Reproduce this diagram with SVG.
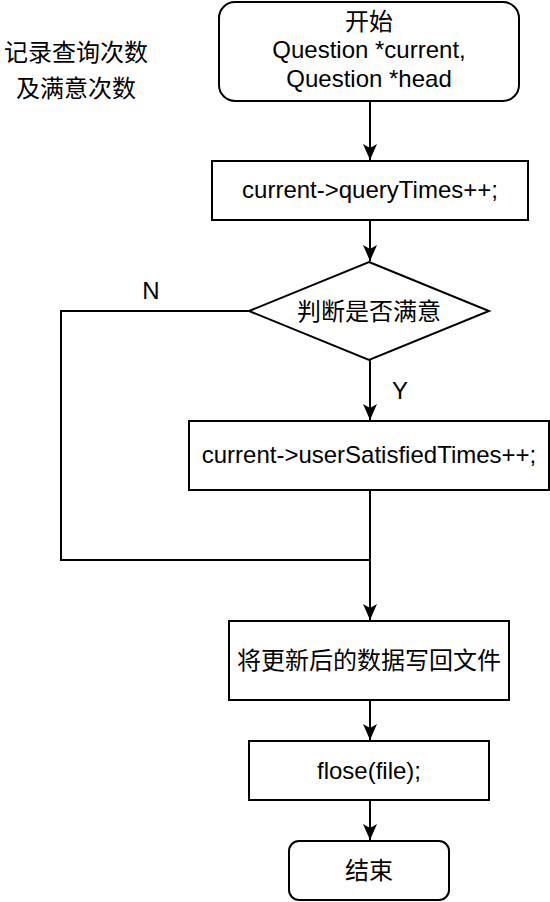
<svg xmlns="http://www.w3.org/2000/svg" width="550" height="902" viewBox="0 0 550 902">
<style>
.s{fill:#fff;stroke:#000;stroke-width:2}
.c{fill:none;stroke:#000;stroke-width:2}
text{font-family:"Liberation Sans","Noto Sans CJK SC",Arial,sans-serif;font-size:24px;fill:#000;text-anchor:middle}
</style>
<defs>
<marker id="a" markerUnits="userSpaceOnUse" markerWidth="16" markerHeight="16" viewBox="0 0 16 16" refX="16" refY="8" orient="auto">
<path d="M0,1 L16,8 L0,15 L4,8 z" fill="#000"/>
</marker>
</defs>
<rect width="550" height="902" fill="#fff"/>
<g id="label-title">
<text x="76" y="61">记录查询次数</text>
<text x="76" y="97">及满意次数</text>
</g>
<g id="connectors">
<path class="c" d="M370,101 V160" marker-end="url(#a)"/>
<path class="c" d="M370,220 V261" marker-end="url(#a)"/>
<path class="c" d="M370,360 V420" marker-end="url(#a)"/>
<path class="c" d="M249,311 H61 V560 H370"/>
<path class="c" d="M370,490 V620" marker-end="url(#a)"/>
<path class="c" d="M370,700 V740" marker-end="url(#a)"/>
<path class="c" d="M370,800 V840" marker-end="url(#a)"/>
<text x="151" y="299">N</text>
<text x="400" y="399">Y</text>
</g>
<g id="start">
<rect class="s" x="219" y="2" width="300" height="99" rx="16"/>
<text x="369" y="30">开始</text>
<text x="369" y="58">Question *current,</text>
<text x="369" y="87">Question *head</text>
</g>
<g id="query">
<rect class="s" x="212" y="161" width="316" height="59"/>
<text x="370" y="198">current-&gt;queryTimes++;</text>
</g>
<g id="decision">
<polygon class="s" points="369,262 489,311 369,360 249,311"/>
<text x="369" y="320">判断是否满意</text>
</g>
<g id="satisfied">
<rect class="s" x="189" y="421" width="360" height="69"/>
<text x="369" y="463">current-&gt;userSatisfiedTimes++;</text>
</g>
<g id="write">
<rect class="s" x="229" y="621" width="280" height="79"/>
<text x="369" y="669">将更新后的数据写回文件</text>
</g>
<g id="fclose">
<rect class="s" x="249" y="741" width="240" height="59"/>
<text x="369" y="779">flose(file);</text>
</g>
<g id="end">
<rect class="s" x="289" y="841" width="160" height="59" rx="10"/>
<text x="369" y="879">结束</text>
</g>
</svg>
